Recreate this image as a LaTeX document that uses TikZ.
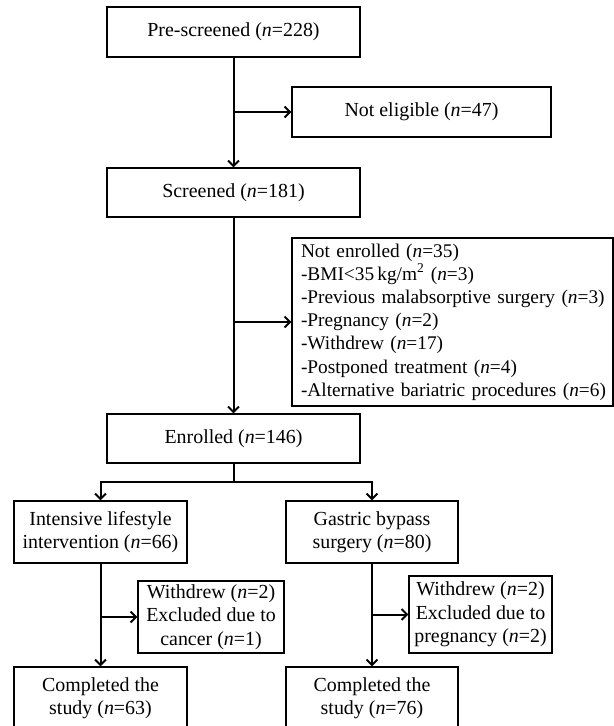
\documentclass[tikz,border=0pt]{standalone}
\usepackage{fontspec}
\setmainfont{Liberation Serif}
\usetikzlibrary{arrows.meta}
\begin{document}
\begin{tikzpicture}[x=1bp,y=-1bp,
  box/.style={draw=black,line width=1.1bp,inner sep=0pt,align=center,
    font=\fontsize{20}{23.5}\selectfont},
  conn/.style={line width=2bp,black},
  arr/.style={conn,-{Straight Barb[length=5.5bp,width=11bp]}}]
\useasboundingbox (0,0) rectangle (614,726);
\clip (0,0) rectangle (614,726);
\node[box,minimum width=253bp,minimum height=50bp] (pre) at (233.5,32) {Pre-screened (\textit{n}=228)};
\node[box,minimum width=259bp,minimum height=50bp] (noteli) at (421.5,112) {Not eligible (\textit{n}=47)};
\node[box,minimum width=253bp,minimum height=49bp] (scr) at (233.5,192.5) {Screened (\textit{n}=181)};
\node[box,align=left,text width=303bp,inner xsep=9bp,minimum height=168bp,
  font=\fontsize{19.4}{23.3}\selectfont] (notenr) at (452.5,322)
 {\mbox{Not enrolled (\textit{n}=35)}\\
  \mbox{-BMI<35\,kg/m\textsuperscript{2} (\textit{n}=3)}\\
  \mbox{-Previous malabsorptive surgery (\textit{n}=3)}\\
  \mbox{-Pregnancy (\textit{n}=2)}\\
  \mbox{-Withdrew (\textit{n}=17)}\\
  \mbox{-Postponed treatment (\textit{n}=4)}\\
  \mbox{-Alternative bariatric procedures (\textit{n}=6)}};
\node[box,minimum width=253bp,minimum height=49bp] (enr) at (233.5,438.5) {Enrolled (\textit{n}=146)};
\node[box,minimum width=173bp,minimum height=62bp] (int) at (100.5,532) {Intensive lifestyle\\intervention (\textit{n}=66)};
\node[box,minimum width=172bp,minimum height=62bp] (gas) at (372,532) {Gastric bypass\\surgery (\textit{n}=80)};
\node[box,minimum width=146bp,minimum height=72bp] (wl) at (211,617) {Withdrew (\textit{n}=2)\\Excluded due to\\cancer (\textit{n}=1)};
\node[box,minimum width=143bp,minimum height=77bp] (wr) at (480.5,614.5) {Withdrew (\textit{n}=2)\\Excluded due to\\pregnancy (\textit{n}=2)};
\node[box,minimum width=173bp,minimum height=62bp] (cl) at (100.5,698) {Completed the\\study (\textit{n}=63)};
\node[box,minimum width=172bp,minimum height=62bp] (cr) at (372,698) {Completed the\\study (\textit{n}=76)};
% connectors
\coordinate (b1) at (pre.south |- noteli.west);
\draw[arr] (pre.south) -- (scr.north);
\draw[arr] (b1) -- (noteli.west);
\coordinate (b2) at (scr.south |- notenr.west);
\draw[arr] (scr.south) -- (enr.north);
\draw[arr] (b2) -- (notenr.west);
\coordinate (split) at (233.5,482);
\draw[conn] (enr.south) -- (split);
\draw[arr] (split) -| (int.north);
\draw[arr] (split) -| (gas.north);
\coordinate (b3) at (int.south |- wl.west);
\draw[arr] (int.south) -- (cl.north);
\draw[arr] (b3) -- (wl.west);
\coordinate (b4) at (gas.south |- wr.west);
\draw[arr] (gas.south) -- (cr.north);
\draw[arr] (b4) -- (wr.west);
\end{tikzpicture}
\end{document}
